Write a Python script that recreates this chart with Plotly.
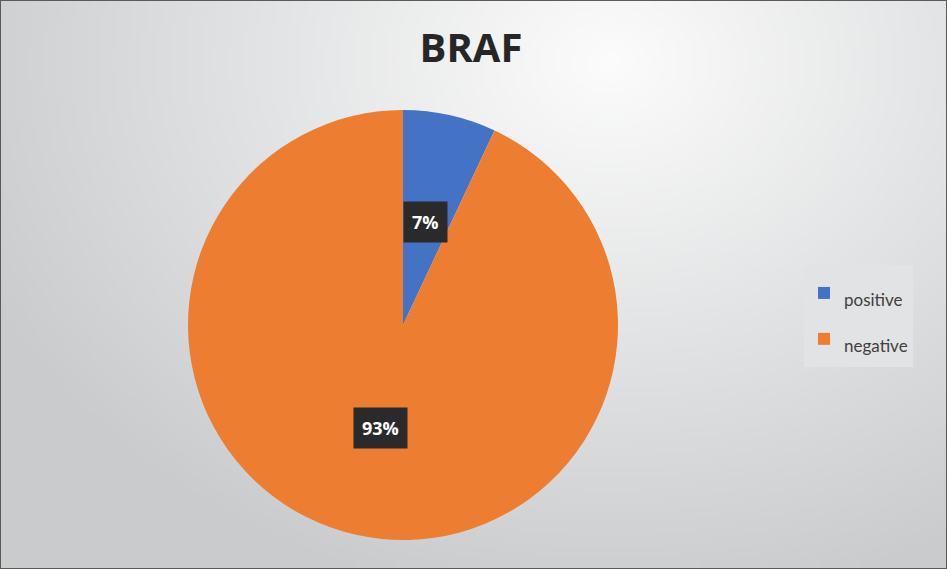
import base64
import struct
import zlib

import numpy as np
import plotly.graph_objects as go

labels = ['positive', 'negative']
values = [7, 93]
colors = ['#4472C4', '#ED7D31']

W, H = 947, 569


def _gradient_png(w=190, h=114):
    # soft radial backdrop: white toward the upper middle, grey toward the corners
    ys, xs = np.mgrid[0:h, 0:w]
    px = xs / (w - 1) * W
    py = ys / (h - 1) * H
    d = np.sqrt(((px - 610) / 700) ** 2 + ((py - 60) / 560) ** 2)
    t = np.clip(d, 0, 1)
    white = np.array([252, 252, 252])
    grey = np.array([201, 203, 205])
    img = (white[None, None, :] * (1 - t[..., None]) + grey[None, None, :] * t[..., None]).astype(np.uint8)
    raw = b''.join(b'\x00' + img[r].tobytes() for r in range(h))

    def chunk(tag, data):
        c = struct.pack('>I', len(data)) + tag + data
        return c + struct.pack('>I', zlib.crc32(tag + data) & 0xffffffff)

    png = b'\x89PNG\r\n\x1a\n'
    png += chunk(b'IHDR', struct.pack('>IIBBBBB', w, h, 8, 2, 0, 0, 0))
    png += chunk(b'IDAT', zlib.compress(raw, 9))
    png += chunk(b'IEND', b'')
    return 'data:image/png;base64,' + base64.b64encode(png).decode()


# pie geometry in pixels
cx, cy, R = 403, 325, 215
dom_x = [(cx - R) / W, (cx + R) / W]
dom_y = [1 - (cy + R) / H, 1 - (cy - R) / H]

# legend font is large so the rows get Excel-like spacing; the text itself is smaller
legend_labels = [f'<span style="font-size:17px">{l}</span>' for l in labels]

fig = go.Figure(go.Pie(
    labels=legend_labels, values=values, sort=False, direction='clockwise', rotation=0,
    marker=dict(colors=colors, line=dict(width=0)),
    textinfo='none', hoverinfo='label+percent',
    domain=dict(x=dom_x, y=dom_y),
))

# percentage labels in dark boxes, placed at each slice's mid-angle
total = sum(values)
start = 0.0
for v in values:
    mid = np.deg2rad((start + v / 2) / total * 360)
    start += v
    lx = cx + 0.49 * R * np.sin(mid)
    ly = cy - 0.49 * R * np.cos(mid)
    fig.add_annotation(
        x=lx / W, y=1 - ly / H, xref='paper', yref='paper',
        xanchor='center', yanchor='middle',
        text=f'<b>{round(v / total * 100)}%</b>', showarrow=False,
        font=dict(family='Open Sans, sans-serif', size=18, color='white'),
        bgcolor='#2a2a2a', borderpad=8,
    )

fig.add_layout_image(dict(
    source=_gradient_png(), xref='paper', yref='paper', x=0, y=1,
    sizex=1, sizey=1, xanchor='left', yanchor='top', sizing='stretch',
    layer='below',
))
fig.add_shape(type='rect', xref='paper', yref='paper', x0=0, y0=0, x1=1, y1=1,
              line=dict(color='#5a5a5a', width=2))

fig.update_layout(
    width=W, height=H,
    margin=dict(l=0, r=0, t=0, b=0),
    paper_bgcolor='#d6d8d9', plot_bgcolor='rgba(0,0,0,0)',
    title=dict(text='<b>BRAF</b>', x=471 / W, xanchor='center', y=1 - 48 / H, yanchor='middle',
               font=dict(family='Open Sans, sans-serif', size=40, color='#262626')),
    showlegend=True,
    legend=dict(x=804 / W, y=1 - 316 / H, xanchor='left', yanchor='middle',
                bgcolor='#e2e3e4', borderwidth=0,
                font=dict(family='Lato, sans-serif', size=33, color='#404040'),
                itemwidth=30),
)

fig.write_html('out.html', config={'displayModeBar': False},
               post_script="document.body.style.margin='0';")
